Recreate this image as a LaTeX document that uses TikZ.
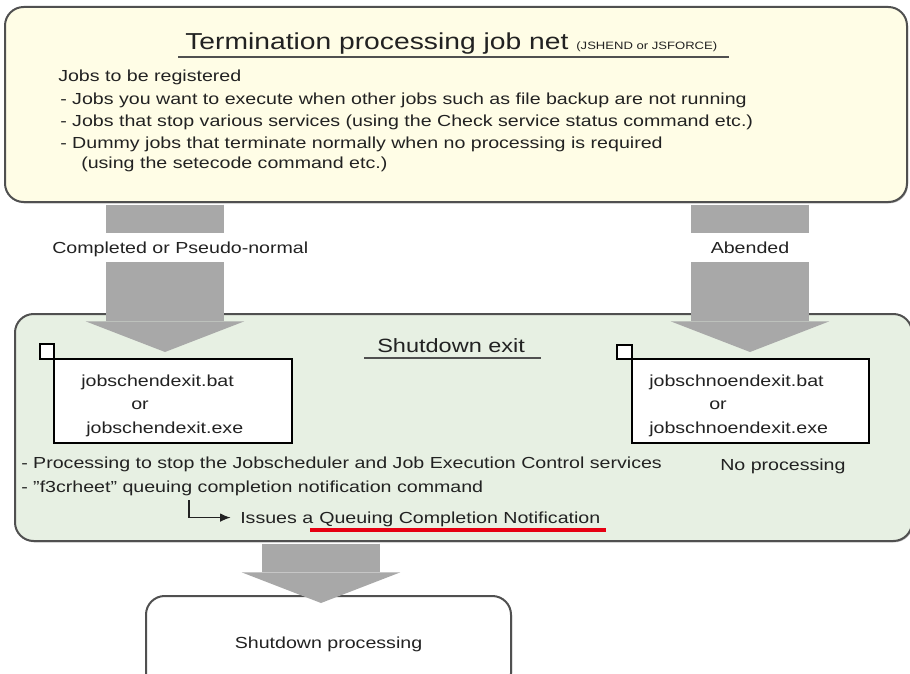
\documentclass[tikz,border=0pt]{standalone}
\usepackage{fontspec}
\setmainfont{Liberation Sans}[FakeStretch=1.225]
\usetikzlibrary{arrows.meta,shadows,positioning}
\definecolor{jaune}{HTML}{FFFDE6}
\definecolor{vertclair}{HTML}{E7F0E3}
\definecolor{grisfleche}{HTML}{A8A8A8}
\definecolor{bord}{HTML}{505050}
\definecolor{encre}{HTML}{222222}
\definecolor{rouge}{HTML}{E60012}

\begin{document}
\begin{tikzpicture}[x=0.75pt, y=-0.75pt]
	\tikzset{cadre/.style={rounded corners=14pt, draw=bord, line width=1.5pt, outer sep=0pt, drop shadow={shadow xshift=0.8pt, shadow yshift=-1pt, fill=black!45, opacity=0.6}}, fichier/.style={draw=black, line width=1.2pt, fill=white, outer sep=0pt}, texte/.style={inner sep=0pt, text=encre, font=\fontsize{12}{14}\selectfont, anchor=base west}, bloc/.style={line width=88pt, draw=grisfleche, shorten <=2pt, -{Triangle[width=119pt, length=23pt, line width=0pt]}}, fleche/.style={>={Latex[length=8pt, width=6.5pt]}, ->, line width=1pt, encre}};

	\useasboundingbox (0,0) rectangle (910,674);

	\node[cadre, fill=jaune, minimum width=676.5pt, minimum height=146.25pt] (haut) at (456,104.5) {};
	\node[cadre, fill=vertclair, minimum width=672.75pt, minimum height=170.25pt] (sortie) at (463.5,427.5) {};
	\node[cadre, fill=white, minimum width=273.75pt, minimum height=72pt, text=encre, font=\fontsize{12}{14}\selectfont] (arret) at (328.5,644) {Shutdown processing};

	\coordinate (pA) at (165,352);
	\coordinate (pB) at (750,352);
	\coordinate (pC) at (321,603);
	\draw[bloc] (haut.south -| pA) -- (pA);
	\draw[bloc] (haut.south -| pB) -- (pB);
	\draw[bloc] (sortie.south -| pC) -- (pC);

	\node[texte, font=\fontsize{17.3}{20}\selectfont] (titre) at (185,50) {Termination processing job net {\fontsize{8}{9}\selectfont(JSHEND or JSFORCE)}};
	\draw[bord, line width=1.5pt] ([shift={(-7,7)}]titre.base west) -- ([shift={(12,7)}]titre.base east);
	\node[texte] (l0) at (58,82) {Jobs to be registered};
	\node[texte] (l1) at (60,104) {- Jobs you want to execute when other jobs such as file backup are not running};
	\node[texte] (l2) at (60,126) {- Jobs that stop various services (using the Check service status command etc.)};
	\node[texte] (l3) at (60,148) {- Dummy jobs that terminate normally when no processing is required};
	\node[texte] (l4) at (81,168) {(using the setecode command etc.)};

	\node[texte, fill=white, text height=15pt, text depth=6.75pt] (ok) at (52,253) {Completed or Pseudo-normal};
	\node[texte, fill=white, text height=15pt, text depth=6.75pt, minimum width=94pt, anchor=base] (ab) at (750,253) {Abended};

	\node[texte, font=\fontsize{14.4}{17}\selectfont] (titre2) at (377,352) {Shutdown exit};
	\draw[bord, line width=1.2pt] ([shift={(-13,6)}]titre2.base west) -- ([shift={(16,6)}]titre2.base east);

	\node[fichier, minimum width=178.5pt, minimum height=63pt] (fA) at (173,401) {};
	\node[fichier, minimum width=10.5pt, minimum height=11.25pt, anchor=south east] (cA) at (fA.north west) {};
	\node[texte] (fA1) at (81,386) {jobschendexit.bat};
	\node[texte] (fA2) at (131,409) {or};
	\node[texte] (fA3) at (86,433) {jobschendexit.exe};

	\node[fichier, minimum width=177.75pt, minimum height=63pt] (fB) at (750.5,401) {};
	\node[fichier, minimum width=11.25pt, minimum height=10.5pt, anchor=south east] (cB) at (fB.north west) {};
	\node[texte] (fB1) at (649,386) {jobschnoendexit.bat};
	\node[texte] (fB2) at (709,409) {or};
	\node[texte] (fB3) at (649,433) {jobschnoendexit.exe};

	\node[texte] (p1) at (21,468) {- Processing to stop the Jobscheduler and Job Execution Control services};
	\node[texte] (p2) at (21,492) {- "f3crheet" queuing completion notification command};
	\node[texte] (np) at (720,470) {No processing};
	\node[texte] (iss) at (240,523) {Issues a};
	\node[texte, right=4.1pt of iss.base east, anchor=base west] (qcn) {Queuing Completion Notification};
	\draw[rouge, line width=2.3pt] ([shift={(-9,7)}]qcn.base west) -- ([shift={(5,7)}]qcn.base east);

	\coordinate (coude) at (189,500);
	\draw[fleche, shorten >=7pt] (coude) |- (iss.west);

\end{tikzpicture}
\end{document}
